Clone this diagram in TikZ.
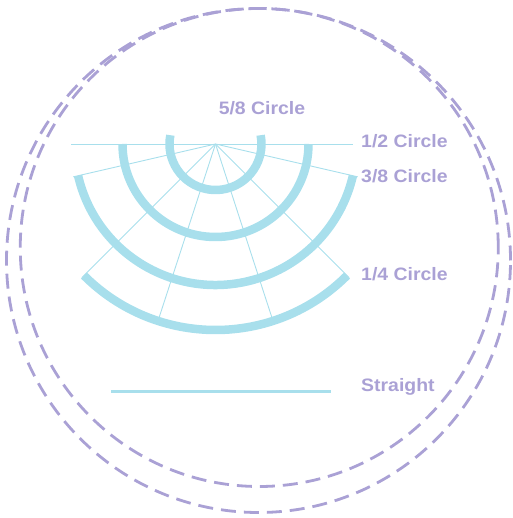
\documentclass[tikz,border=0pt]{standalone}
\usepackage{fontspec}
\newfontfamily\lblfont[FakeStretch=1.08]{Liberation Sans Bold}
\definecolor{arcc}{RGB}{168,223,236}
\definecolor{lav}{RGB}{170,161,213}
\tikzset{
  dashcirc/.style={draw=lav, line width=2.8pt, dash pattern=on 15pt off 8pt},
  thickarc/.style={draw=arcc, line width=8.5pt, line cap=butt},
  spoke/.style={draw=arcc, line width=0.9pt},
  lbl/.style={text=lav, inner sep=0pt, font=\lblfont\fontsize{18}{20}\selectfont}
}
\begin{document}
\begin{tikzpicture}[x=1pt,y=1pt]
\useasboundingbox (0,0) rectangle (512,518);
% dashed circles
\draw[dashcirc] (258.5,257.5) circle[radius=252pt];
\draw[dashcirc] (259.25,270.5) circle[radius=239pt];
% centre
\coordinate (C) at (215.5,374);
% horizontal line and spokes
\coordinate (HL) at (71,374);
\coordinate (HR) at (353,374);
\draw[spoke] (HL) -- (HR);
\foreach \a/\r in {193/146, 347/146, 225/189, 315/189, 252/186, 288/186}{
  \draw[spoke] (C) -- ++(\a:\r);
}
% arcs
\draw[thickarc] (C) ++(169:46) arc[start angle=169, end angle=371, radius=46];
\draw[thickarc] (C) ++(180:93) arc[start angle=180, end angle=360, radius=93];
\draw[thickarc] (C) ++(193:141) arc[start angle=193, end angle=347, radius=141];
\draw[thickarc] (C) ++(225:186) arc[start angle=225, end angle=315, radius=186];
% straight
\coordinate (SL) at (111,126.7);
\coordinate (SR) at (330.7,126.7);
\draw[draw=arcc, line width=3pt] (SL) -- (SR);
% labels
\node[lbl, anchor=base] (l58) at (262,403) {5/8 Circle};
\node[lbl, anchor=base west] (l12) at (361,370.3) {1/2 Circle};
\node[lbl, anchor=base west] (l38) at (361,335.3) {3/8 Circle};
\node[lbl, anchor=base west] (l14) at (361,237.7) {1/4 Circle};
\node[lbl, anchor=base west] (lst) at (361,126.5) {Straight};
\end{tikzpicture}
\end{document}
